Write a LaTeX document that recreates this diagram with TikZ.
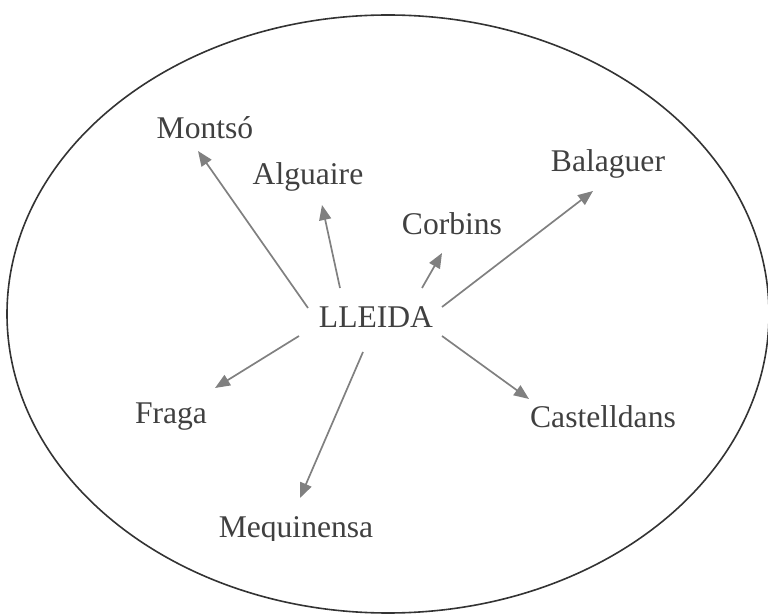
\documentclass[tikz,border=0pt]{standalone}
\usepackage{fontspec}
\setmainfont{Liberation Serif}
\usepackage{tikz}
\usetikzlibrary{arrows.meta}
\definecolor{txtgray}{HTML}{404040}
\definecolor{arrgray}{HTML}{808080}
\tikzset{>={Triangle[length=7.5pt,width=6pt]}}

\begin{document}
\begin{tikzpicture}[x=0.5pt,y=-0.5pt,
    town/.style={anchor=base,text=txtgray,inner sep=0pt,
      font=\fontsize{15.8}{19}\selectfont},
    link/.style={->,draw=arrgray,line width=0.85pt}]
    \useasboundingbox (0,0) rectangle (768,615);

    \draw[line width=0.8pt,draw=black!80] (388,314) ellipse (381 and 299);

    \node[town] at (376,328) (lleida) {LLEIDA};
    \node[town] at (205,139) (montso) {Montsó};
    \node[town] at (308,185) (alguaire) {Alguaire};
    \node[town] at (452,235) (corbins) {Corbins};
    \node[town] at (608,172) (balaguer) {Balaguer};
    \node[town] at (171,424) (fraga) {Fraga};
    \node[town] at (603,428) (castelldans) {Castelldans};
    \begin{scope}
      \clip (150,500) rectangle (450,541);
      \node[town] at (296,538) (mequinensa) {Mequinensa};
    \end{scope}

    \draw[link] ([shift={(-68,-20)}]lleida.base) -- ([shift={(-7,12)}]montso.base);
    \draw[link] ([shift={(-36,-40)}]lleida.base) -- ([shift={(14,20)}]alguaire.base);
    \draw[link] ([shift={(46,-40)}]lleida.base) -- ([shift={(-10,18)}]corbins.base);
    \draw[link] ([shift={(66,-21)}]lleida.base) -- ([shift={(-15,19)}]balaguer.base);
    \draw[link] ([shift={(-77,8)}]lleida.base) -- ([shift={(44,-36)}]fraga.base);
    \draw[link] ([shift={(-13,24)}]lleida.base) -- ([shift={(4,-40)}]mequinensa.base);
    \draw[link] ([shift={(66,8)}]lleida.base) -- ([shift={(-74,-29)}]castelldans.base);
\end{tikzpicture}
\end{document}
